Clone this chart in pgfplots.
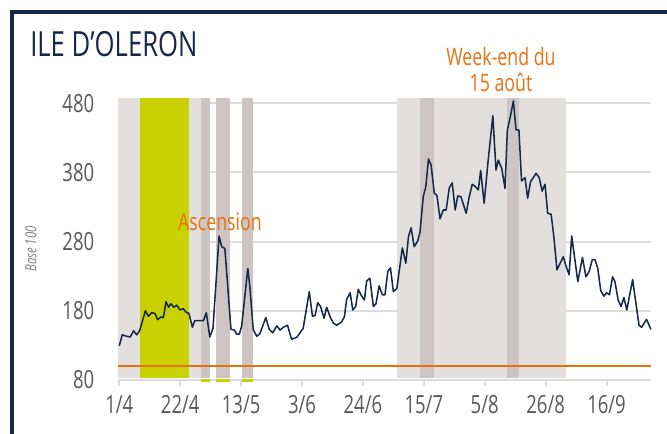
\documentclass[border=0pt]{standalone}
\usepackage{fontspec}
\setmainfont[FakeStretch=0.74]{Open Sans}
\usepackage{pgfplots}
\pgfplotsset{compat=1.18}
\definecolor{navy}{HTML}{16284A}
\definecolor{lband}{HTML}{E3DFDD}
\definecolor{dband}{HTML}{CDC5C3}
\definecolor{ygreen}{HTML}{C9D200}
\definecolor{orng}{HTML}{E8700F}
\definecolor{gridc}{HTML}{DCDCDC}
\definecolor{tickc}{HTML}{595959}
\begin{document}
\begin{tikzpicture}
\path[use as bounding box] (0,0) rectangle (500.25pt,325.5pt);
\begin{scope}
\clip (0,0) rectangle (500.25pt,325.5pt);
\draw[navy, line width=3.4pt] (9pt,-20pt) -- (9pt,316.5pt) -- (520pt,316.5pt);
\end{scope}
\node[anchor=base west, inner sep=0, text=navy] at (22.5pt,282.75pt) {\fontsize{26}{26}\selectfont ILE D’OLERON};
\node[rotate=90, text=gray, inner sep=0] at (23.25pt,138.75pt) {\fontsize{11.5}{12}\selectfont\itshape Base 100};
\begin{axis}[
  at={(88.4pt,40.65pt)}, anchor=south west, scale only axis,
  width=400.2pt, height=212.5pt,
  xmin=-0.5, xmax=183.5, ymin=80, ymax=490,
  clip=false,
  axis x line=bottom, axis y line=left,
  y axis line style={draw=none},
  x axis line style={gridc, line width=1.5pt, -},
  xtick={0,21,42,63,84,105,126,147,168},
  xticklabels={1/4,22/4,13/5,3/6,24/6,15/7,5/8,26/8,16/9},
  ytick={80,180,280,380,480},
  yticklabels={80,180,280,380,480},
  xtick align=outside,
  major tick length=4.5pt,
  x tick style={gridc, line width=1.5pt},
  ytick style={draw=none},
  ymajorgrids, grid style={gridc, line width=1.5pt},
  tick label style={text=tickc, font=\fontsize{18.75}{20}\selectfont},
  xticklabel style={yshift=-4pt},
  yticklabel style={xshift=-12pt},
]
% bands
\addplot[fill=lband, draw=none] coordinates {(-0.3,82) (7.1,82) (7.1,488) (-0.3,488)} -- cycle;
\addplot[fill=ygreen, draw=none] coordinates {(7.1,82) (24.1,82) (24.1,488) (7.1,488)} -- cycle;
\addplot[fill=lband, draw=none] coordinates {(24.1,82) (28.2,82) (28.2,488) (24.1,488)} -- cycle;
\addplot[fill=dband, draw=none] coordinates {(28.2,82) (31.3,82) (31.3,488) (28.2,488)} -- cycle;
\addplot[fill=dband, draw=none] coordinates {(33.3,82) (38.2,82) (38.2,488) (33.3,488)} -- cycle;
\addplot[fill=dband, draw=none] coordinates {(42.4,82) (46.2,82) (46.2,488) (42.4,488)} -- cycle;
\addplot[fill=ygreen, draw=none] coordinates {(28.2,76.5) (31.3,76.5) (31.3,81.5) (28.2,81.5)} -- cycle;
\addplot[fill=ygreen, draw=none] coordinates {(33.3,76.5) (38.2,76.5) (38.2,81.5) (33.3,81.5)} -- cycle;
\addplot[fill=ygreen, draw=none] coordinates {(42.4,76.5) (46.2,76.5) (46.2,81.5) (42.4,81.5)} -- cycle;
\addplot[fill=lband, draw=none] coordinates {(95.9,82) (103.7,82) (103.7,488) (95.9,488)} -- cycle;
\addplot[fill=dband, draw=none] coordinates {(103.7,82) (108.6,82) (108.6,488) (103.7,488)} -- cycle;
\addplot[fill=lband, draw=none] coordinates {(108.6,82) (133.8,82) (133.8,488) (108.6,488)} -- cycle;
\addplot[fill=dband, draw=none] coordinates {(133.8,82) (137.8,82) (137.8,488) (133.8,488)} -- cycle;
\addplot[fill=lband, draw=none] coordinates {(137.8,82) (153.9,82) (153.9,488) (137.8,488)} -- cycle;
% base 100
\addplot[orng, line width=1.5pt] coordinates {(-0.5,100) (183.5,100)};
% data
\addplot[navy, line width=1.15pt, line join=round] coordinates {
(0,129) (1,145) (2.5,143) (3.8,142) (4.9,151) (6,145) (7,151) (9,180) (10,172)
(11.2,177) (12.3,176) (13.2,167) (14.4,171) (15.2,170) (16.1,193) (17,185) (17.8,190)
(18.8,185) (19.8,188) (20.9,181) (22,183) (23,178) (24,176) (25.2,156) (26,165.5)
(29,165.5) (30,177) (31.2,142) (32.3,154.5) (34.4,288) (35.3,272.6) (36.4,270)
(38.5,153) (39.7,152) (40.5,146) (41.4,146) (42.2,158) (44.3,241) (45,215) (46.2,152)
(47.4,143) (48.5,147) (50.5,170) (51.7,153) (52.9,148) (54.3,158) (55.4,152) (56.6,156)
(58,159) (59.4,138.6) (61.2,141.5) (62.3,148) (63.4,154.5) (65.5,207.5) (66.6,172)
(67.5,173) (68.4,191.6) (69.4,186) (70.6,169) (71.5,185) (72.7,171) (73.8,162) (75,159)
(76.7,164) (77.6,171) (78.4,196.5) (79.6,206) (80.5,181) (81.5,186) (82.4,211) (83.3,203)
(84.5,195.5) (85.3,223) (86.4,227) (87.6,186) (88.5,190) (89.6,216) (90.7,203) (91.6,203)
(92.6,237) (93.5,242) (94.5,207.5) (95.7,212) (97.6,271) (98.8,248.6) (99.7,287) (100.6,300)
(101.7,272.6) (102.9,281) (103.7,294) (104.8,345) (105.7,359.5) (106.6,399.5) (107.5,391)
(108.6,350) (109.5,347) (110.6,313) (111.7,325.7) (112.7,325.7) (113.8,358) (114.8,365)
(115.8,325.7) (116.7,346) (117.8,345) (119.6,321) (120.6,343.5) (121.7,363) (122.8,359.5)
(123.8,354.7) (124.6,383) (125.8,335.4) (127.2,398) (128.8,462) (129.9,383.6) (130.7,398)
(131.9,385) (133,357) (133.8,441.5) (134.7,458) (135.9,483.5) (136.8,441.5) (137.8,441.5)
(138.7,367.7) (139.9,372.5) (140.8,342.7) (141.8,366.7) (143.7,378.8) (144.8,372.5)
(145.8,353) (146.8,363) (147.7,321) (148.9,319.5) (149.9,284.8) (150.9,239) (152,248.6)
(153.1,258) (154,245) (155.1,232) (156,288) (158.1,222) (159.7,257) (160.9,229) (162,236.5)
(163.1,254) (164,254) (165,241) (166,209) (167.1,201) (168,206) (169,203) (170.1,229)
(170.9,222) (172,195.5) (173,186) (174,199) (175,181) (177,225) (179.2,159) (180.1,156)
(181.8,167.5) (183.3,153)
};
\end{axis}
\node[text=orng, inner sep=0, font=\fontsize{18}{18}\selectfont] at (165pt,159pt) {Ascension};
\node[text=orng, inner sep=0, align=center, anchor=base, font=\fontsize{18}{19.5}\selectfont] at (375.75pt,256.5pt) {Week-end du\\15 août};
\end{tikzpicture}
\end{document}
